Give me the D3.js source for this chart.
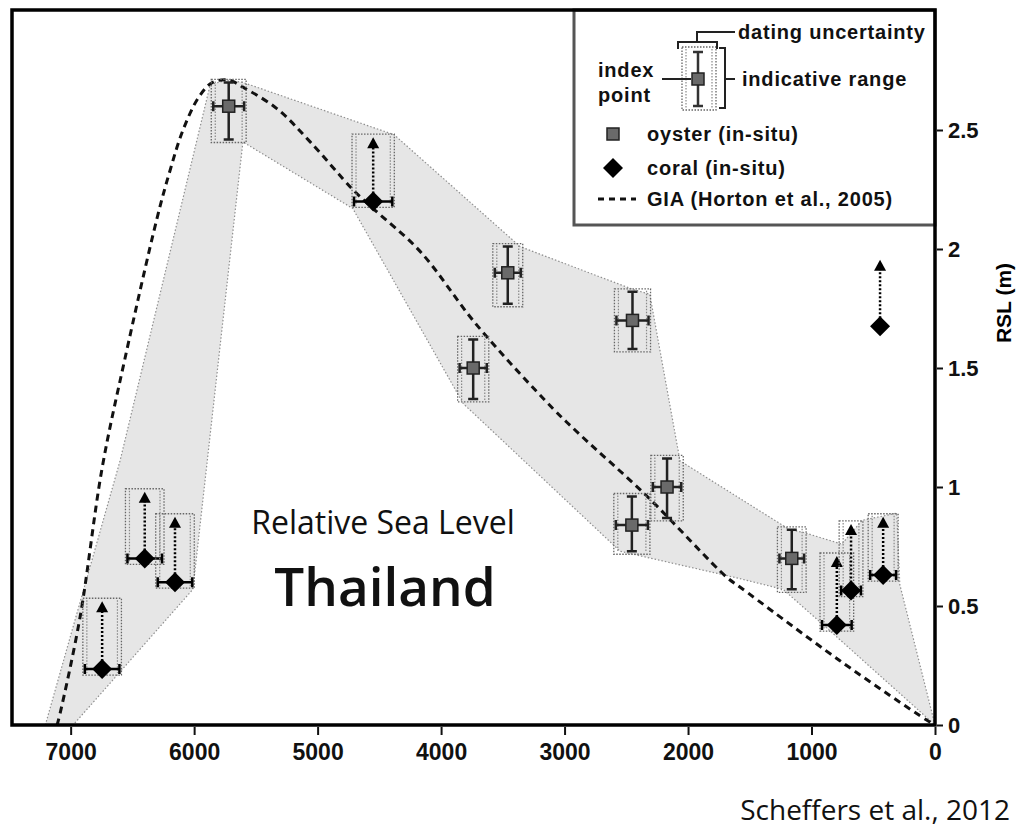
<!DOCTYPE html>
<meta charset="utf-8">
<style>
body { margin: 0; background: #fff; }
svg { display: block; }
.tick text { font-family: "Liberation Sans", Arial, sans-serif; font-weight: bold; fill: #111; }
.tick line { stroke: #111; stroke-width: 2; }
.legend text { font-family: "Liberation Sans", Arial, sans-serif; font-weight: bold; font-size: 20px; letter-spacing: 0.8px; fill: #111; }
</style>
<svg width="1024" height="837"></svg>
<script src="https://d3js.org/d3.v7.min.js"></script>
<script>

// ---- data (age in years BP, RSL in metres) ----
const oysterAge    = [5720, 3460, 3740, 2450, 2170, 2455, 1160];
const oysterRsl    = [2.60, 1.90, 1.50, 1.70, 1.00, 0.84, 0.70];
const oysterLow    = [2.46, 1.77, 1.37, 1.58, 0.87, 0.73, 0.57];
const oysterHigh   = [2.70, 2.01, 1.62, 1.82, 1.12, 0.96, 0.82];
const oysterAgeErr = [125, 105, 110, 130, 115, 130, 100];

const coralAge    = [6745, 6400, 6155, 4550, 795, 680, 420, 445];
const coralRsl    = [0.235, 0.70, 0.60, 2.20, 0.42, 0.565, 0.63, 1.675];
const coralLimit  = [0.52, 0.98, 0.875, 2.47, 0.71, 0.845, 0.875, 1.955];
const coralAgeErr = [140, 140, 140, 155, 120, 80, 105, 0];

// GIA model curve (Horton et al., 2005)
const giaAge = [7110, 7085, 6925, 6745, 6560, 6300, 6195, 6090, 5960, 5850, 5720, 5605,
                5330, 5060, 4715, 4550, 4170, 3710, 3095, 2875, 2330, 1685, 1580, 770, 65, 0];
const giaRsl = [0, 0.05, 0.45, 1.08, 1.54, 2.13, 2.33, 2.50, 2.64, 2.70, 2.71, 2.68,
                2.59, 2.45, 2.25, 2.17, 1.99, 1.68, 1.33, 1.22, 0.96, 0.62, 0.58, 0.27, 0.02, 0];

// grey envelope around the index points
const envAge = [7205, 6600, 5870, 5735, 5605, 4380, 3360, 2445, 2310, 2065, 1175, 1070,
                755, 590, 310, 285, 0, 795, 1230, 1620, 2550, 3820, 4715, 5605, 6010, 6980];
const envRsl = [0, 1.11, 2.69, 2.71, 2.70, 2.48, 2.01, 1.83, 1.81, 1.11, 0.82, 0.81,
                0.76, 0.86, 0.89, 0.59, 0, 0.37, 0.57, 0.62, 0.73, 1.35, 2.17, 2.45, 0.57, 0];

const xTicks = [7000, 6000, 5000, 4000, 3000, 2000, 1000, 0];
const yTicks = [0, 0.5, 1, 1.5, 2, 2.5];
const yTickLabels = ["0", "0.5", "1", "1.5", "2", "2.5"];

// ---- setup ----
const svg = d3.select("svg");
const x = d3.scaleLinear().domain([7475, 0]).range([12, 935]);
const y = d3.scaleLinear().domain([0, 3]).range([725, 11]);

// envelope
svg.append("path")
    .datum(envAge.map((a, i) => [a, envRsl[i]]))
    .attr("d", d3.line().x(d => x(d[0])).y(d => y(d[1])))
    .attr("fill", "#e6e6e6")
    .attr("stroke", "#8f8f8f")
    .attr("stroke-width", 1.2)
    .attr("stroke-dasharray", "1.5,2");

// GIA dashed curve
svg.append("path")
    .datum(giaAge.map((a, i) => [a, giaRsl[i]]))
    .attr("d", d3.line().curve(d3.curveCatmullRom.alpha(0.5)).x(d => x(d[0])).y(d => y(d[1])))
    .attr("fill", "none")
    .attr("stroke", "#111")
    .attr("stroke-width", 3)
    .attr("stroke-dasharray", "7,5");

// dotted boxes (dating uncertainty x indicative range)
function dottedBox(g, x0, x1, y0, y1) {
  g.append("rect")
      .attr("x", x0).attr("y", y0)
      .attr("width", x1 - x0).attr("height", y1 - y0)
      .attr("fill", "none")
      .attr("stroke", "#666")
      .attr("stroke-width", 1.3)
      .attr("stroke-dasharray", "1.5,1.5");
  [x0 + 4, x1 - 4].forEach(xx => {
    g.append("line")
        .attr("x1", xx).attr("x2", xx).attr("y1", y0 + 2).attr("y2", y1 - 2)
        .attr("stroke", "#888")
        .attr("stroke-width", 1.2)
        .attr("stroke-dasharray", "1.5,1.5");
  });
}

function hBar(g, cx, cy, half, col) {
  g.append("path")
      .attr("d", `M${cx - half},${cy}H${cx + half}M${cx - half},${cy - 5}V${cy + 5}M${cx + half},${cy - 5}V${cy + 5}`)
      .attr("stroke", col).attr("stroke-width", 2.5).attr("fill", "none");
}

function vBar(g, cx, y0, y1, col) {
  g.append("path")
      .attr("d", `M${cx},${y0}V${y1}M${cx - 5},${y0}H${cx + 5}M${cx - 5},${y1}H${cx + 5}`)
      .attr("stroke", col).attr("stroke-width", 2.5).attr("fill", "none");
}

function oysterMark(g, cx, cy) {
  g.append("rect")
      .attr("x", cx - 6).attr("y", cy - 6).attr("width", 12).attr("height", 12)
      .attr("fill", "#6a6a6a").attr("stroke", "#222").attr("stroke-width", 1.5);
}

function coralMark(g, cx, cy) {
  g.append("path")
      .attr("d", `M${cx},${cy - 10}L${cx + 10},${cy}L${cx},${cy + 10}L${cx - 10},${cy}Z`)
      .attr("fill", "#000");
}

const pts = svg.append("g");

// oysters
oysterAge.forEach((a, i) => {
  const cx = x(a), cy = y(oysterRsl[i]);
  const half = x(a - oysterAgeErr[i]) - cx;
  dottedBox(pts, cx - half - 2, cx + half + 2, y(oysterHigh[i]) - 3, y(oysterLow[i]) + 3);
  vBar(pts, cx, y(oysterHigh[i]), y(oysterLow[i]), "#222");
  hBar(pts, cx, cy, half, "#222");
  oysterMark(pts, cx, cy);
});

// corals (lower limiting points)
coralAge.forEach((a, i) => {
  const cx = x(a), cy = y(coralRsl[i]), ty = y(coralLimit[i]);
  const half = x(a - coralAgeErr[i]) - cx;
  if (coralAgeErr[i] > 0) {
    dottedBox(pts, cx - half - 2, cx + half + 2, ty - 3, cy + 6);
  }
  pts.append("line")
      .attr("x1", cx).attr("x2", cx).attr("y1", cy).attr("y2", ty + 8)
      .attr("stroke", "#000").attr("stroke-width", 2.5)
      .attr("stroke-dasharray", "2,2");
  pts.append("path")
      .attr("d", `M${cx},${ty}L${cx + 6},${ty + 11}L${cx - 6},${ty + 11}Z`)
      .attr("fill", "#000");
  if (coralAgeErr[i] > 0) hBar(pts, cx, cy, half, "#000");
  coralMark(pts, cx, cy);
});

// ---- legend ----
const lg = svg.append("g").attr("class", "legend");
lg.append("rect")
    .attr("x", 574).attr("y", 10).attr("width", 361).attr("height", 215)
    .attr("fill", "#fff").attr("stroke", "#555").attr("stroke-width", 3);

dottedBox(lg, 682, 716, 47, 110);
vBar(lg, 698, 52, 106, "#333");
oysterMark(lg, 698, 79);
lg.append("path")
    .attr("d", "M678,49V42H717V49M697,42V32H735M719,48H725V108H719M725,79H735M662,79H691")
    .attr("stroke", "#222").attr("stroke-width", 2).attr("fill", "none");

lg.append("text").attr("x", 738).attr("y", 32).attr("dy", "0.35em").text("dating uncertainty");
lg.append("text").attr("x", 742).attr("y", 79).attr("dy", "0.35em").text("indicative range");
lg.append("text").attr("x", 598).attr("y", 70).attr("dy", "0.35em").text("index");
lg.append("text").attr("x", 598).attr("y", 95).attr("dy", "0.35em").text("point");

oysterMark(lg, 613, 134);
lg.append("text").attr("x", 647).attr("y", 134).attr("dy", "0.35em").text("oyster (in-situ)");
coralMark(lg, 613, 168);
lg.append("text").attr("x", 647).attr("y", 168).attr("dy", "0.35em").text("coral (in-situ)");
lg.append("line")
    .attr("x1", 598).attr("x2", 636).attr("y1", 199).attr("y2", 199)
    .attr("stroke", "#111").attr("stroke-width", 3).attr("stroke-dasharray", "6,5");
lg.append("text").attr("x", 647).attr("y", 199).attr("dy", "0.35em").text("GIA (Horton et al., 2005)");

// ---- frame and axes ----
svg.append("rect")
    .attr("x", 12).attr("y", 10).attr("width", 923).attr("height", 715)
    .attr("fill", "none").attr("stroke", "#000").attr("stroke-width", 3.5);

const xAxis = svg.append("g")
    .attr("transform", "translate(0,727)")
    .call(d3.axisBottom(x).tickValues(xTicks).tickSize(8).tickPadding(9).tickFormat(d3.format("d")));
xAxis.select(".domain").remove();
xAxis.selectAll("text").attr("font-size", 23);

const yAxis = svg.append("g")
    .attr("transform", "translate(937,0)")
    .call(d3.axisRight(y).tickValues(yTicks).tickSize(6).tickPadding(5)
      .tickFormat((d, i) => yTickLabels[i]));
yAxis.select(".domain").remove();
yAxis.selectAll("text").attr("font-size", 22);

svg.append("text")
    .attr("transform", "translate(1011,303) rotate(-90)")
    .attr("text-anchor", "middle")
    .attr("font-family", "Liberation Sans, Arial, sans-serif")
    .attr("font-weight", "bold")
    .attr("font-size", 21)
    .text("RSL (m)");

// ---- annotations ----
svg.append("text")
    .attr("x", 383).attr("y", 534)
    .attr("text-anchor", "middle")
    .attr("font-family", "Open Sans, sans-serif")
    .attr("font-size", 32)
    .attr("fill", "#111")
    .text("Relative Sea Level");

svg.append("text")
    .attr("x", 385).attr("y", 606)
    .attr("text-anchor", "middle")
    .attr("font-family", "Open Sans, sans-serif")
    .attr("font-weight", 600)
    .attr("font-size", 53)
    .attr("fill", "#111")
    .text("Thailand");

svg.append("text")
    .attr("x", 1010).attr("y", 820)
    .attr("text-anchor", "end")
    .attr("font-family", "Open Sans, sans-serif")
    .attr("font-size", 28)
    .attr("fill", "#111")
    .text("Scheffers et al., 2012");

</script>
